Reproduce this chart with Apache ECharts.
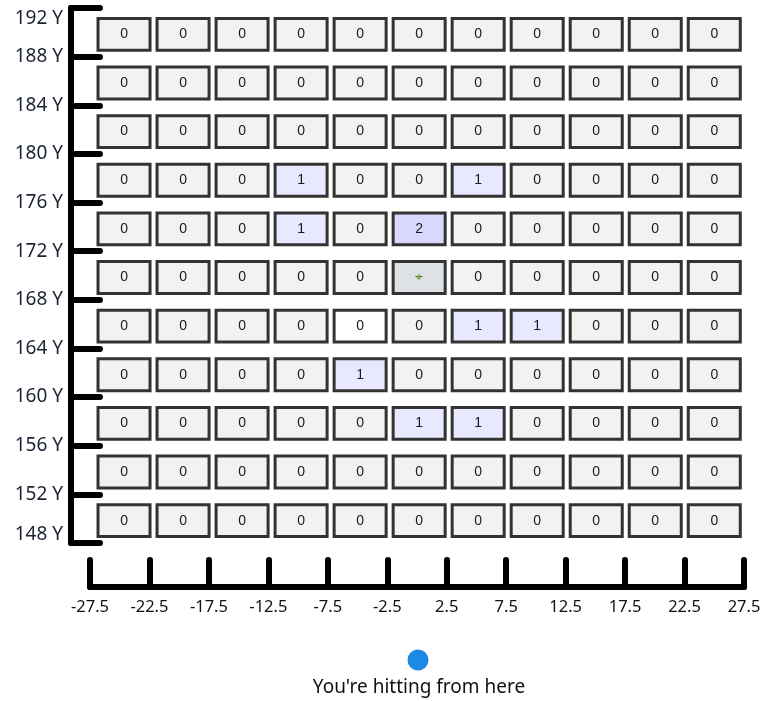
<!DOCTYPE html>
<html>
<head>
<meta charset="utf-8">
<script src="https://cdn.jsdelivr.net/npm/echarts@6/dist/echarts.min.js"></script>
<style>
html,body{margin:0;padding:0;background:#fff;}
#chart{width:772px;height:701px;}
</style>
</head>
<body>
<div id="chart"></div>
<script>
// ---- data ----
const xTickLabels = ['-27.5','-22.5','-17.5','-12.5','-7.5','-2.5','2.5','7.5','12.5','17.5','22.5','27.5'];
const yTickValues = [148,152,156,160,164,168,172,176,180,184,188,192];
const xCenters = [-25,-20,-15,-10,-5,0,5,10,15,20,25];
const yCenters = [190,186,182,178,174,170,166,162,158,154,150];
const counts = [
  [0,0,0,0,0,0,0,0,0,0,0],
  [0,0,0,0,0,0,0,0,0,0,0],
  [0,0,0,0,0,0,0,0,0,0,0],
  [0,0,0,1,0,0,1,0,0,0,0],
  [0,0,0,1,0,2,0,0,0,0,0],
  [0,0,0,0,0,0,0,0,0,0,0],
  [0,0,0,0,0,0,1,1,0,0,0],
  [0,0,0,0,1,0,0,0,0,0,0],
  [0,0,0,0,0,1,1,0,0,0,0],
  [0,0,0,0,0,0,0,0,0,0,0],
  [0,0,0,0,0,0,0,0,0,0,0]
];
const markerCell = [0, 170];      // cell showing the target marker
const markerSymbol = '\u2316';
const blankCell = [-5, 166];      // cell with plain white background
const footerText = "You're hitting from here";

// ---- build ----
const cellData = [];
counts.forEach((row, r) => {
  row.forEach((v, c) => {
    let kind = 0;
    if (xCenters[c] === markerCell[0] && yCenters[r] === markerCell[1]) kind = 1;
    else if (xCenters[c] === blankCell[0] && yCenters[r] === blankCell[1]) kind = 2;
    cellData.push([c + 0.5, yCenters[r], v, kind]);
  });
});

function fillFor(v, kind) {
  if (kind === 1) return '#dee2e6';
  if (kind === 2) return '#ffffff';
  if (v >= 2) return '#d8d8ff';
  if (v === 1) return '#e8e8fe';
  return '#f2f2f2';
}

function renderItem(params, api) {
  const x = api.value(0), y = api.value(1), v = api.value(2), kind = api.value(3);
  const c = api.coord([x, y]);
  const s = api.size([1, 4]);
  const w = s[0] * 0.875, h = s[1] * 0.655;
  const cx = c[0] + 4.3 - 0.43 * (x - 0.5), cy = c[1] + 2;
  const isMarker = kind === 1;
  return {
    type: 'group',
    children: [
      { type: 'rect',
        shape: { x: cx - w / 2, y: cy - h / 2, width: w, height: h },
        style: { fill: fillFor(v, kind), stroke: '#333333', lineWidth: 3 } },
      { type: 'text',
        style: { text: isMarker ? markerSymbol : String(v), x: cx, y: cy,
                 align: 'center', verticalAlign: 'middle',
                 fontFamily: isMarker ? 'DejaVu Sans' : 'Liberation Sans',
                 fontSize: 14,
                 fill: isMarker ? '#5a8a1f' : '#1a1a1a' } }
    ]
  };
}

const chart = echarts.init(document.getElementById('chart'), null, { renderer: 'canvas' });
chart.setOption({
  animation: false,
  grid: { left: 90, right: 28, top: 8, bottom: 158 },
  xAxis: {
    type: 'value', min: 0, max: 11, interval: 1,
    offset: 44,
    axisLine: { show: true, onZero: false, lineStyle: { color: '#000', width: 6, cap: 'round' } },
    axisTick: { show: true, inside: true, length: 27, lineStyle: { color: '#000', width: 6, cap: 'round' } },
    splitLine: { show: false },
    axisLabel: {
      margin: 12, color: '#111', fontSize: 16.5, fontFamily: 'Noto Sans',
      formatter: v => xTickLabels[Math.round(v)]
    }
  },
  yAxis: {
    type: 'value', min: yTickValues[0], max: yTickValues[yTickValues.length - 1], interval: 4,
    offset: 19,
    axisLine: { show: true, onZero: false, lineStyle: { color: '#000', width: 6, cap: 'round' } },
    axisTick: { show: true, inside: true, length: 29, lineStyle: { color: '#000', width: 6, cap: 'round' } },
    splitLine: { show: false },
    axisLabel: {
      margin: 8, color: '#1c2333', fontSize: 19, fontFamily: 'Noto Sans', align: 'right',
      formatter: v => {
        if (v === yTickValues[yTickValues.length - 1]) return '{top|' + v + ' Y}';
        if (v === yTickValues[0]) return '{bot|' + v + ' Y}';
        return v + ' Y';
      },
      rich: {
        top: { padding: [22, 0, 0, 0], fontSize: 19, fontFamily: 'Noto Sans', color: '#1c2333' },
        bot: { padding: [0, 0, 16, 0], fontSize: 19, fontFamily: 'Noto Sans', color: '#1c2333' }
      }
    }
  },
  series: [{
    type: 'custom',
    renderItem: renderItem,
    data: cellData,
    clip: false
  }],
  graphic: [
    { type: 'circle', shape: { cx: 418, cy: 660, r: 10.5 }, style: { fill: '#1e88e5' } },
    { type: 'text', x: 419, y: 688,
      style: { text: footerText, align: 'center', verticalAlign: 'middle',
               fontSize: 19, fontFamily: 'Noto Sans', fill: '#111' } }
  ]
});
</script>
</body>
</html>
